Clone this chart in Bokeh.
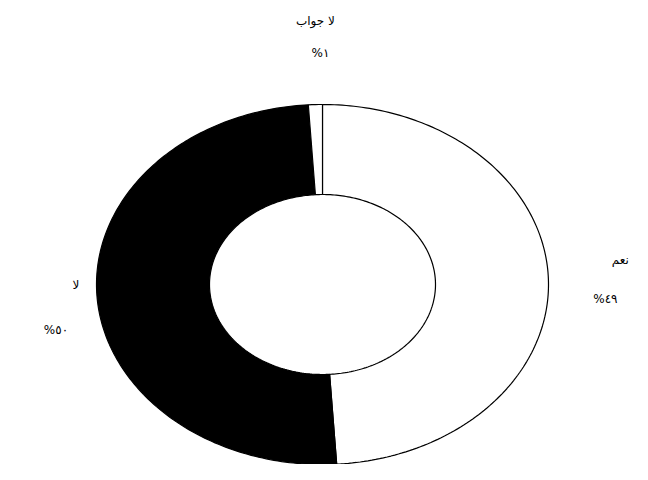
import numpy as np
from bokeh.plotting import figure
from bokeh.models import Range1d, ColumnDataSource
from bokeh.core.properties import value
from bokeh.embed import file_html
from bokeh.resources import INLINE

# ---- data ----
categories = ["نعم", "لا", "لا جواب"]
values = [49, 50, 1]
pct_labels = ["%٤٩", "%٥٠", "%١"]

# ---- styles ----
fills = ["white", "black", "white"]
hole = 0.5
W, H = 632, 464
cx, cy = 322, 284          # ring centre in canvas pixels
rx, ry = 226, 180          # outer radii in pixels (ellipse)
name_off = [(72, -19), (-21, -11), (0, -84)]
pct_off = [(57, 20), (-41, 34), (5, -52)]

p = figure(width=W, height=H, output_backend="svg", toolbar_location=None,
           x_range=Range1d(-cx / rx, (W - cx) / rx),
           y_range=Range1d(-(H - cy) / ry, cy / ry),
           min_border=0, min_border_left=0, min_border_right=0,
           min_border_top=0, min_border_bottom=0)
p.axis.visible = False
p.grid.visible = False
p.outline_line_color = None
p.background_fill_color = "white"

total = float(sum(values))
fr = np.array(values) / total
ends = np.cumsum(fr)
starts = ends - fr

xs, ys = [], []
for s, e in zip(starts, ends):
    a = np.linspace(s, e, max(4, int((e - s) * 360)) + 1) * 2 * np.pi
    ox, oy = np.sin(a), np.cos(a)
    xs.append(np.concatenate([ox, hole * ox[::-1]]).tolist())
    ys.append(np.concatenate([oy, hole * oy[::-1]]).tolist())

src = ColumnDataSource(dict(xs=xs, ys=ys, fill=fills, cat=categories))
p.patches("xs", "ys", source=src, fill_color="fill", line_color="black", line_width=1.2)

mid = (starts + ends) / 2 * 2 * np.pi
lx = np.sin(mid)
ly = np.cos(mid)
lab = ColumnDataSource(dict(
    x=lx, y=ly, name=categories, pct=pct_labels,
    nxo=[o[0] for o in name_off], nyo=[o[1] for o in name_off],
    pxo=[o[0] for o in pct_off], pyo=[o[1] for o in pct_off]))
p.text("x", "y", text="name", x_offset="nxo", y_offset="nyo", source=lab,
       text_font=value("DejaVu Sans"), text_font_size="12px", text_color="black",
       text_align="center", text_baseline="middle")
p.text("x", "y", text="pct", x_offset="pxo", y_offset="pyo", source=lab,
       text_font=value("DejaVu Sans"), text_font_size="12px", text_color="black",
       text_align="center", text_baseline="middle")

open("out.html", "w").write(file_html(p, INLINE))
